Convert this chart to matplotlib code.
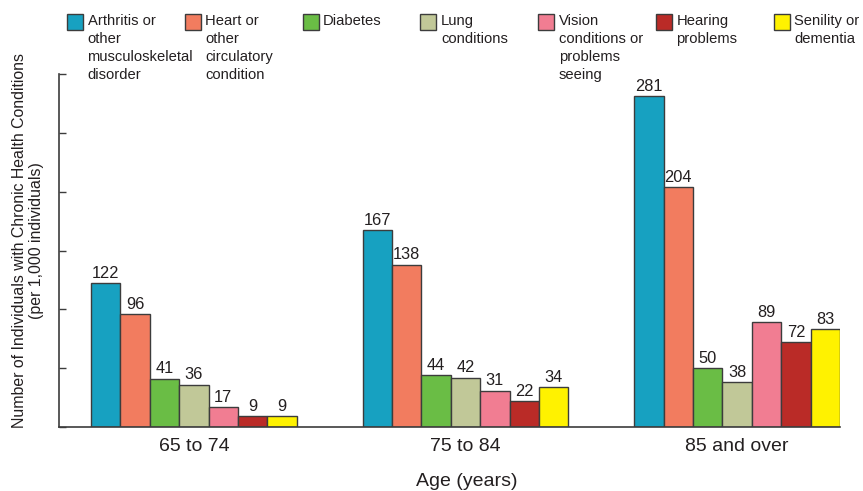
import numpy as np
import matplotlib
matplotlib.use("Agg")
import matplotlib.pyplot as plt
from matplotlib.patches import Rectangle

plt.rcParams['font.family'] = ['Liberation Sans', 'DejaVu Sans']

# Data
age_groups = ["65 to 74", "75 to 84", "85 and over"]
conditions = [
    "Arthritis or\nother\nmusculoskeletal\ndisorder",
    "Heart or\nother\ncirculatory\ncondition",
    "Diabetes",
    "Lung\nconditions",
    "Vision\nconditions or\nproblems\nseeing",
    "Hearing\nproblems",
    "Senility or\ndementia",
]
colors = ["#17A1C1", "#F27C5F", "#6ABD45", "#C1C898", "#F17D92", "#BA2B27", "#FFF200"]

arthritis = [122, 167, 281]
heart = [96, 138, 204]
diabetes = [41, 44, 50]
lung = [36, 42, 38]
vision = [17, 31, 89]
hearing = [9, 22, 72]
senility = [9, 34, 83]
series = [arthritis, heart, diabetes, lung, vision, hearing, senility]

W, H = 863, 491
fig = plt.figure(figsize=(W / 100, H / 100), dpi=100)
ax = fig.add_axes([59 / W, 1 - 427 / H, (840 - 59) / W, (427 - 74) / H])

x = np.arange(len(age_groups))
width = 0.1082
n = len(series)
edge = "#3C3C3C"
for i, (vals, c) in enumerate(zip(series, colors)):
    pos = x + (i - (n - 1) / 2) * width
    ax.bar(pos, vals, width, color=c, edgecolor=edge, linewidth=1.0, zorder=2)
    for xp, v in zip(pos, vals):
        ax.text(xp, v + 2, str(v), ha='center', va='bottom',
                fontsize=11.8, color="#231F20")

ax.set_xlim(-0.4964, 2 + 3.5 * width)
ax.set_ylim(0, 300)
ax.set_yticks(np.arange(0, 301, 50))
ax.set_yticklabels([])
ax.tick_params(axis='y', direction='in', length=5, color=edge, width=1)
ax.set_xticks(x)
ax.set_xticklabels(age_groups, fontsize=14, color="#231F20")
ax.tick_params(axis='x', length=0, pad=8)
for s in ['top', 'right']:
    ax.spines[s].set_visible(False)
for s in ['left', 'bottom']:
    ax.spines[s].set_color(edge)
    ax.spines[s].set_linewidth(1.2)

fig.text(467 / W, 1 - 481 / H, "Age (years)", ha='center', va='center',
         fontsize=14, color="#231F20")
fig.text(28 / W, 1 - 241 / H,
         "Number of Individuals with Chronic Health Conditions\n(per 1,000 individuals)",
         rotation=90, ha='center', va='center', multialignment='center',
         fontsize=11.4, color="#231F20", linespacing=1.2)

# legend drawn by hand so multi-line labels align at the top
for i, (label, c) in enumerate(zip(conditions, colors)):
    x0 = 67 + i * 117.8
    fig.add_artist(Rectangle((x0 / W, 1 - 30 / H), 16 / W, 16 / H,
                             transform=fig.transFigure, facecolor=c,
                             edgecolor=edge, linewidth=1.0))
    fig.text((x0 + 20.5) / W, 1 - 14 / H, label, ha='left', va='top',
             fontsize=10.6, color="#231F20", linespacing=1.35)

fig.savefig("out.png", dpi=100)
